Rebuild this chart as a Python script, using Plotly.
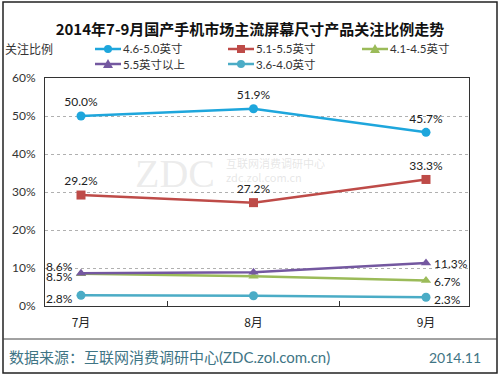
import plotly.graph_objects as go

months = ["7月", "8月", "9月"]
series_names = ["4.6-5.0英寸", "5.1-5.5英寸", "4.1-4.5英寸", "5.5英寸以上", "3.6-4.0英寸"]
v_46_50 = [50.0, 51.9, 45.7]
v_51_55 = [29.2, 27.2, 33.3]
v_41_45 = [8.5, 7.8, 6.7]
v_55up = [8.6, 8.9, 11.3]
v_36_40 = [2.8, 2.7, 2.3]
yticks = [0, 10, 20, 30, 40, 50, 60]

FONT = "Lato, 'Noto Sans CJK SC', sans-serif"
CJK = "'Noto Sans CJK SC', sans-serif"

# plot area in pixels
L, R, T, B = 45, 469, 78, 306
W, H = 500, 375
def px(x):
    return (x - L) / (R - L)
def py(y):
    return (B - y) / (B - T)

def lab(v):
    return f"{v:.1f}%"

# name, values, colour, symbol, label mode, per-point (show, side, yshift)
specs = [
    (series_names[0], v_46_50, "#1ea6dc", "circle", [(1, "top", 0)] * 3),
    (series_names[1], v_51_55, "#be4b48", "square", [(1, "top", 0)] * 3),
    (series_names[2], v_41_45, "#9bbb59", "triangle-up", [(1, "left", -3), (0, "", 0), (1, "right", -1)]),
    (series_names[3], v_55up, "#7458a0", "triangle-up", [(1, "left", 7), (0, "", 0), (1, "right", 0)]),
    (series_names[4], v_36_40, "#4bacc6", "circle", [(1, "left", -3), (0, "", 0), (1, "right", -2)]),
]

fig = go.Figure()
for name, vals, color, sym, labels in specs:
    top = all(s == "top" for _, s, _ in labels)
    fig.add_trace(go.Scatter(
        x=months, y=vals, name=name,
        mode="lines+markers+text" if top else "lines+markers",
        line=dict(color=color, width=2.5),
        marker=dict(symbol=sym, size=9, color=color),
        text=[lab(v) for v in vals] if top else None,
        textposition="top center",
        textfont=dict(family=FONT, size=12, color="#222"),
        cliponaxis=False, showlegend=False,
    ))
    if not top:
        for m, v, (show, side, ys) in zip(months, vals, labels):
            if not show:
                continue
            fig.add_annotation(x=m, y=v, text=lab(v), showarrow=False,
                               xanchor="right" if side == "left" else "left", yanchor="middle",
                               xshift=-7 if side == "left" else 7, yshift=ys, borderpad=0,
                               font=dict(family=FONT, size=12, color="#222"))

fig.update_layout(
    width=W, height=H,
    margin=dict(l=L, r=W - R, t=T, b=H - B, autoexpand=False),
    paper_bgcolor="white", plot_bgcolor="white",
    showlegend=False,
    title=dict(text="<b>2014年7-9月国产手机市场主流屏幕尺寸产品关注比例走势</b>",
               x=0.5, xanchor="center", y=1 - 30 / H, yanchor="middle",
               font=dict(family=CJK, size=15, color="#111")),
    font=dict(family=FONT, size=12, color="#333"),
)
fig.update_yaxes(range=[0, 60], tickvals=yticks, ticktext=[f"{t}%" for t in yticks],
                 showgrid=True, gridcolor="#b0b0b0", griddash="dot", gridwidth=1,
                 showline=True, linecolor="#333", linewidth=1, mirror=True,
                 zeroline=False, ticks="", ticklabelstandoff=6,
                 tickfont=dict(family=FONT, size=12, color="#333"))
fig.update_xaxes(showline=True, linecolor="#333", linewidth=1, mirror=True,
                 ticks="inside", tickson="boundaries", ticklen=5, tickcolor="#333",
                 ticklabelstandoff=6,
                 tickfont=dict(family=CJK, size=12, color="#222"), showgrid=False)

# manual legend
legend_pos = [(95, 49), (228, 49), (362, 49), (95, 64), (228, 64)]
for (name, vals, color, sym, labels), (lx, ly) in zip(specs, legend_pos):
    fig.add_shape(type="line", xref="paper", yref="paper",
                  x0=px(lx), x1=px(lx + 26), y0=py(ly), y1=py(ly),
                  line=dict(color=color, width=2.5))
    cx, cy = px(lx + 13), py(ly)
    if sym == "circle":
        fig.add_shape(type="circle", xref="paper", yref="paper", xsizemode="pixel", ysizemode="pixel",
                      xanchor=cx, yanchor=cy, x0=-4, x1=4, y0=-4, y1=4,
                      fillcolor=color, line=dict(color=color, width=0))
    elif sym == "square":
        fig.add_shape(type="rect", xref="paper", yref="paper", xsizemode="pixel", ysizemode="pixel",
                      xanchor=cx, yanchor=cy, x0=-4, x1=4, y0=-4, y1=4,
                      fillcolor=color, line=dict(color=color, width=0))
    else:
        fig.add_shape(type="path", xref="paper", yref="paper", xsizemode="pixel", ysizemode="pixel",
                      xanchor=cx, yanchor=cy, path="M -5,-4 L 5,-4 L 0,5 Z",
                      fillcolor=color, line=dict(color=color, width=0))
    fig.add_annotation(text=name, xref="paper", yref="paper", x=px(lx + 27), y=py(ly),
                       xanchor="left", yanchor="middle", showarrow=False, borderpad=0,
                       font=dict(family=FONT, size=11.5, color="#333"))

# y-axis caption
fig.add_annotation(text="关注比例", xref="paper", yref="paper", x=px(4), y=py(49),
                   xanchor="left", yanchor="middle", showarrow=False, borderpad=0,
                   font=dict(family=CJK, size=12, color="#333"))
# watermark
fig.add_annotation(text="ZDC", xref="paper", yref="paper", x=px(175), y=py(173),
                   xanchor="center", yanchor="middle", showarrow=False,
                   font=dict(family="'Liberation Serif', serif", size=40, color="rgba(200,200,200,0.35)"))
fig.add_annotation(text="互联网消费调研中心<br>zdc.zol.com.cn", xref="paper", yref="paper", x=px(224), y=py(170),
                   xanchor="left", yanchor="middle", showarrow=False, align="left",
                   font=dict(family=CJK, size=11, color="rgba(200,200,200,0.45)"))
# footer
fig.add_annotation(text="数据来源：互联网消费调研中心(ZDC.zol.com.cn)", xref="paper", yref="paper",
                   x=px(7), y=py(357), xanchor="left", yanchor="middle", showarrow=False,
                   font=dict(family=FONT, size=15, color="#3f7585"))
fig.add_annotation(text="2014.11", xref="paper", yref="paper",
                   x=px(483), y=py(357), xanchor="right", yanchor="middle", showarrow=False,
                   font=dict(family=FONT, size=14, color="#3f7585"))
# outer frame and footer separator
fig.add_shape(type="rect", xref="paper", yref="paper",
              x0=px(3), x1=px(497), y0=py(373), y1=py(2),
              line=dict(color="#222", width=1.5))
fig.add_shape(type="line", xref="paper", yref="paper",
              x0=px(3), x1=px(497), y0=py(339), y1=py(339),
              line=dict(color="#444", width=1))

fig.write_html("out.html", config={"displayModeBar": False},
               post_script="document.body.style.margin='0';document.body.style.padding='0';")
